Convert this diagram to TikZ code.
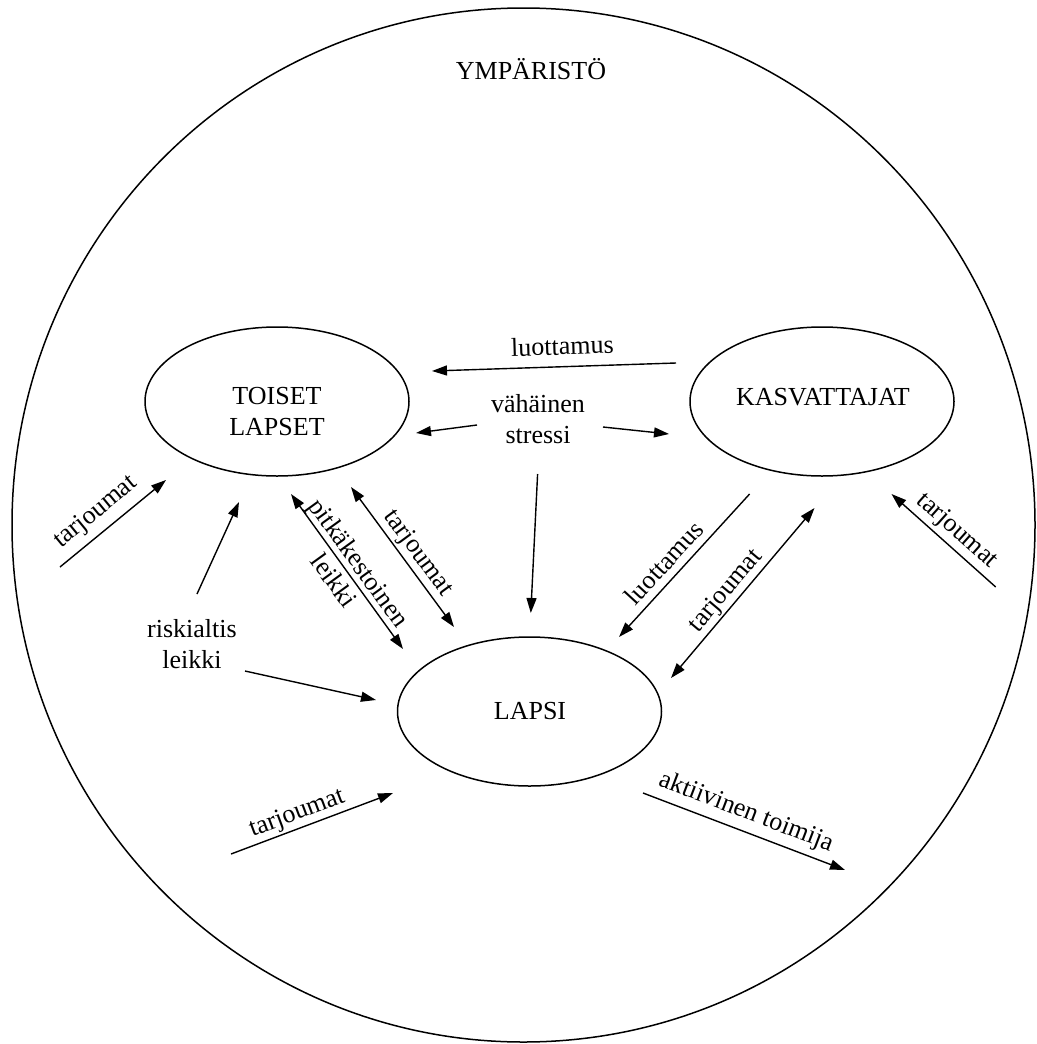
\documentclass[tikz,border=0pt]{standalone}
\usepackage{fontspec}
\setmainfont{Liberation Serif}
\usetikzlibrary{arrows.meta,shapes.geometric}
\begin{document}
\begin{tikzpicture}[x=1pt,y=-1pt,
  every node/.style={font=\fontsize{26}{31}\selectfont, inner sep=0pt, outer sep=0pt},
  blob/.style={draw, ellipse, line width=1.5pt, minimum width=264pt, minimum height=149pt},
  conn/.style={line width=1.4pt, -{Triangle[length=15pt,width=10pt]}},
  rconn/.style={line width=1.4pt, {Triangle[length=15pt,width=10pt]}-},
  bconn/.style={line width=1.4pt, {Triangle[length=15pt,width=10pt]}-{Triangle[length=15pt,width=10pt]}},
  lbl/.style={sloped, align=center}
]
\useasboundingbox (0,0) rectangle (1036,1044);
% environment
\node[draw, ellipse, line width=1.5pt, minimum width=1023pt, minimum height=1034pt] (env) at (523.5,525) {};
\node[anchor=base] (envlabel) at (531,79) {YMPÄRISTÖ};
% main ellipses
\node[blob] (toiset) at (277,401.5) {};
\node[align=center] (toisettext) at (277,412) {TOISET\\LAPSET};
\node[blob] (kasv) at (822,401.5) {};
\node[anchor=base] (kasvtext) at (823,405) {KASVATTAJAT};
\node[blob] (lapsi) at (529.5,711.5) {};
\node[anchor=base] (lapsitext) at (530,719) {LAPSI};
% free texts
\node[align=center] (stress) at (538,419.5) {vähäinen\\stressi};
\node[align=center] (risk) at (192,643.6) {riskialtis\\leikki};
% coordinates
\coordinate (a1s) at (60,567);    \coordinate (a1e) at (166,480);
\coordinate (a2s) at (197,594);   \coordinate (a2e) at (239,502);
\coordinate (a3s) at (245,671);   \coordinate (a3e) at (376,700);
\coordinate (a4s) at (291,494);   \coordinate (a4e) at (403,649);
\coordinate (a5s) at (351,487);   \coordinate (a5e) at (454,627);
\coordinate (a6s) at (537.6,474); \coordinate (a6e) at (530.8,613);
\coordinate (a7s) at (432,371);   \coordinate (a7e) at (676,363);
\coordinate (a8s) at (416,433);   \coordinate (a8e) at (477,425);
\coordinate (a9s) at (603,427);   \coordinate (a9e) at (669,434);
\coordinate (a10s) at (619,637);  \coordinate (a10e) at (749.6,494);
\coordinate (a11s) at (671,678);  \coordinate (a11e) at (814.5,508);
\coordinate (a12s) at (891.5,494);\coordinate (a12e) at (995.7,587);
\coordinate (a13s) at (231,854);  \coordinate (a13e) at (393,793);
\coordinate (a14s) at (643,793);  \coordinate (a14e) at (845,870);
% connectors
\draw[conn] (a1s) -- node[lbl, above=8pt, pos=0.456] (l1) {tarjoumat} (a1e);
\draw[conn] (a2s) -- (a2e);
\draw[conn] (a3s) -- (a3e);
\draw[bconn] (a4s) -- node[lbl, pos=0.5] (l4) {pitkäkestoinen\\leikki} (a4e);
\draw[bconn] (a5s) -- node[lbl, above=3pt, pos=0.535] (l5) {tarjoumat} (a5e);
\draw[conn] (a6s) -- (a6e);
\draw[rconn] (a7s) -- node[lbl, above=11.7pt, pos=0.537] (l7) {luottamus} (a7e);
\draw[rconn] (a8s) -- (a8e);
\draw[conn] (a9s) -- (a9e);
\draw[rconn] (a10s) -- node[lbl, above=7.8pt, pos=0.44] (l10) {luottamus} (a10e);
\draw[bconn] (a11s) -- node[lbl, above=2.4pt, pos=0.458] (l11) {tarjoumat} (a11e);
\draw[rconn] (a12s) -- node[lbl, above=4.3pt, pos=0.526] (l12) {tarjoumat} (a12e);
\draw[conn] (a13s) -- node[lbl, above=3pt, pos=0.44] (l13) {tarjoumat} (a13e);
\draw[conn] (a14s) -- node[lbl, above=6.7pt, pos=0.477] (l14) {aktiivinen toimija} (a14e);
\end{tikzpicture}
\end{document}
